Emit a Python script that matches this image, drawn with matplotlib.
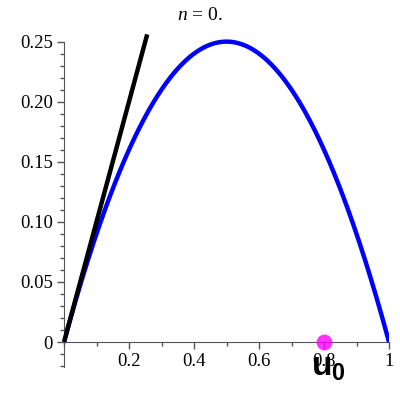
import numpy as np
import matplotlib
matplotlib.use("Agg")
import matplotlib.pyplot as plt
from matplotlib.ticker import MultipleLocator, FixedLocator

# data
x_range = (0.0, 1.0)
tangent_end = 0.256
u0 = 0.8
x_ticks = [0.2, 0.4, 0.6, 0.8, 1.0]
x_labels = ["0.2", "0.4", "0.6", "0.8", "1"]
y_ticks = [0, 0.05, 0.10, 0.15, 0.20, 0.25]
y_labels = ["0", "0.05", "0.10", "0.15", "0.20", "0.25"]

plt.rcParams["font.family"] = ["Liberation Serif", "DejaVu Serif"]
plt.rcParams["mathtext.fontset"] = "custom"
plt.rcParams["mathtext.bf"] = "Liberation Sans:bold"
plt.rcParams["mathtext.it"] = "Liberation Serif:italic"
plt.rcParams["mathtext.rm"] = "Liberation Serif"

fig = plt.figure(figsize=(4, 4), dpi=100)
ax = fig.add_axes([0.16, 0.0825, 0.8125, 0.83])

xs = np.linspace(x_range[0], x_range[1], 400)
ax.plot(xs, xs * (1 - xs), color="#0000ff", lw=3.2, solid_capstyle="butt", zorder=3)
xt = np.linspace(0, tangent_end, 50)
ax.plot(xt, xt, color="black", lw=3.2, solid_capstyle="butt", zorder=3, clip_on=False)
ax.scatter([u0], [0], s=130, color="#ff00ff", alpha=0.8, zorder=5, clip_on=False, linewidths=0)
ax.text(u0 - 0.04, -0.0215, r"$\mathbf{u_0}$", fontsize=24, ha="left", va="center", zorder=6)

ax.set_xlim(0, 1)
ax.set_ylim(-0.0208, 0.2555)

for s in ["top", "right"]:
    ax.spines[s].set_visible(False)
ax.spines["bottom"].set_position(("data", 0))
ax.spines["bottom"].set_bounds(0, 1)
ax.spines["left"].set_bounds(-0.0208, 0.25)
ax.spines["left"].set_color("#555555")
ax.spines["bottom"].set_color("#555555")

ax.xaxis.set_major_locator(FixedLocator(x_ticks))
ax.set_xticklabels(x_labels)
ax.xaxis.set_minor_locator(MultipleLocator(0.1))
ax.yaxis.set_major_locator(FixedLocator(y_ticks))
ax.set_yticklabels(y_labels)
ax.yaxis.set_minor_locator(FixedLocator(np.arange(-0.02, 0.2501, 0.01)))

ax.tick_params(which="major", direction="out", length=5, width=1, color="#555555", labelsize=13.5, pad=3)
ax.tick_params(which="minor", direction="out", length=3, width=1, color="#555555")

fig.text(0.5, 0.962, r"$n$ = 0.", ha="center", va="center", fontsize=14)

fig.savefig("out.png", dpi=100)
